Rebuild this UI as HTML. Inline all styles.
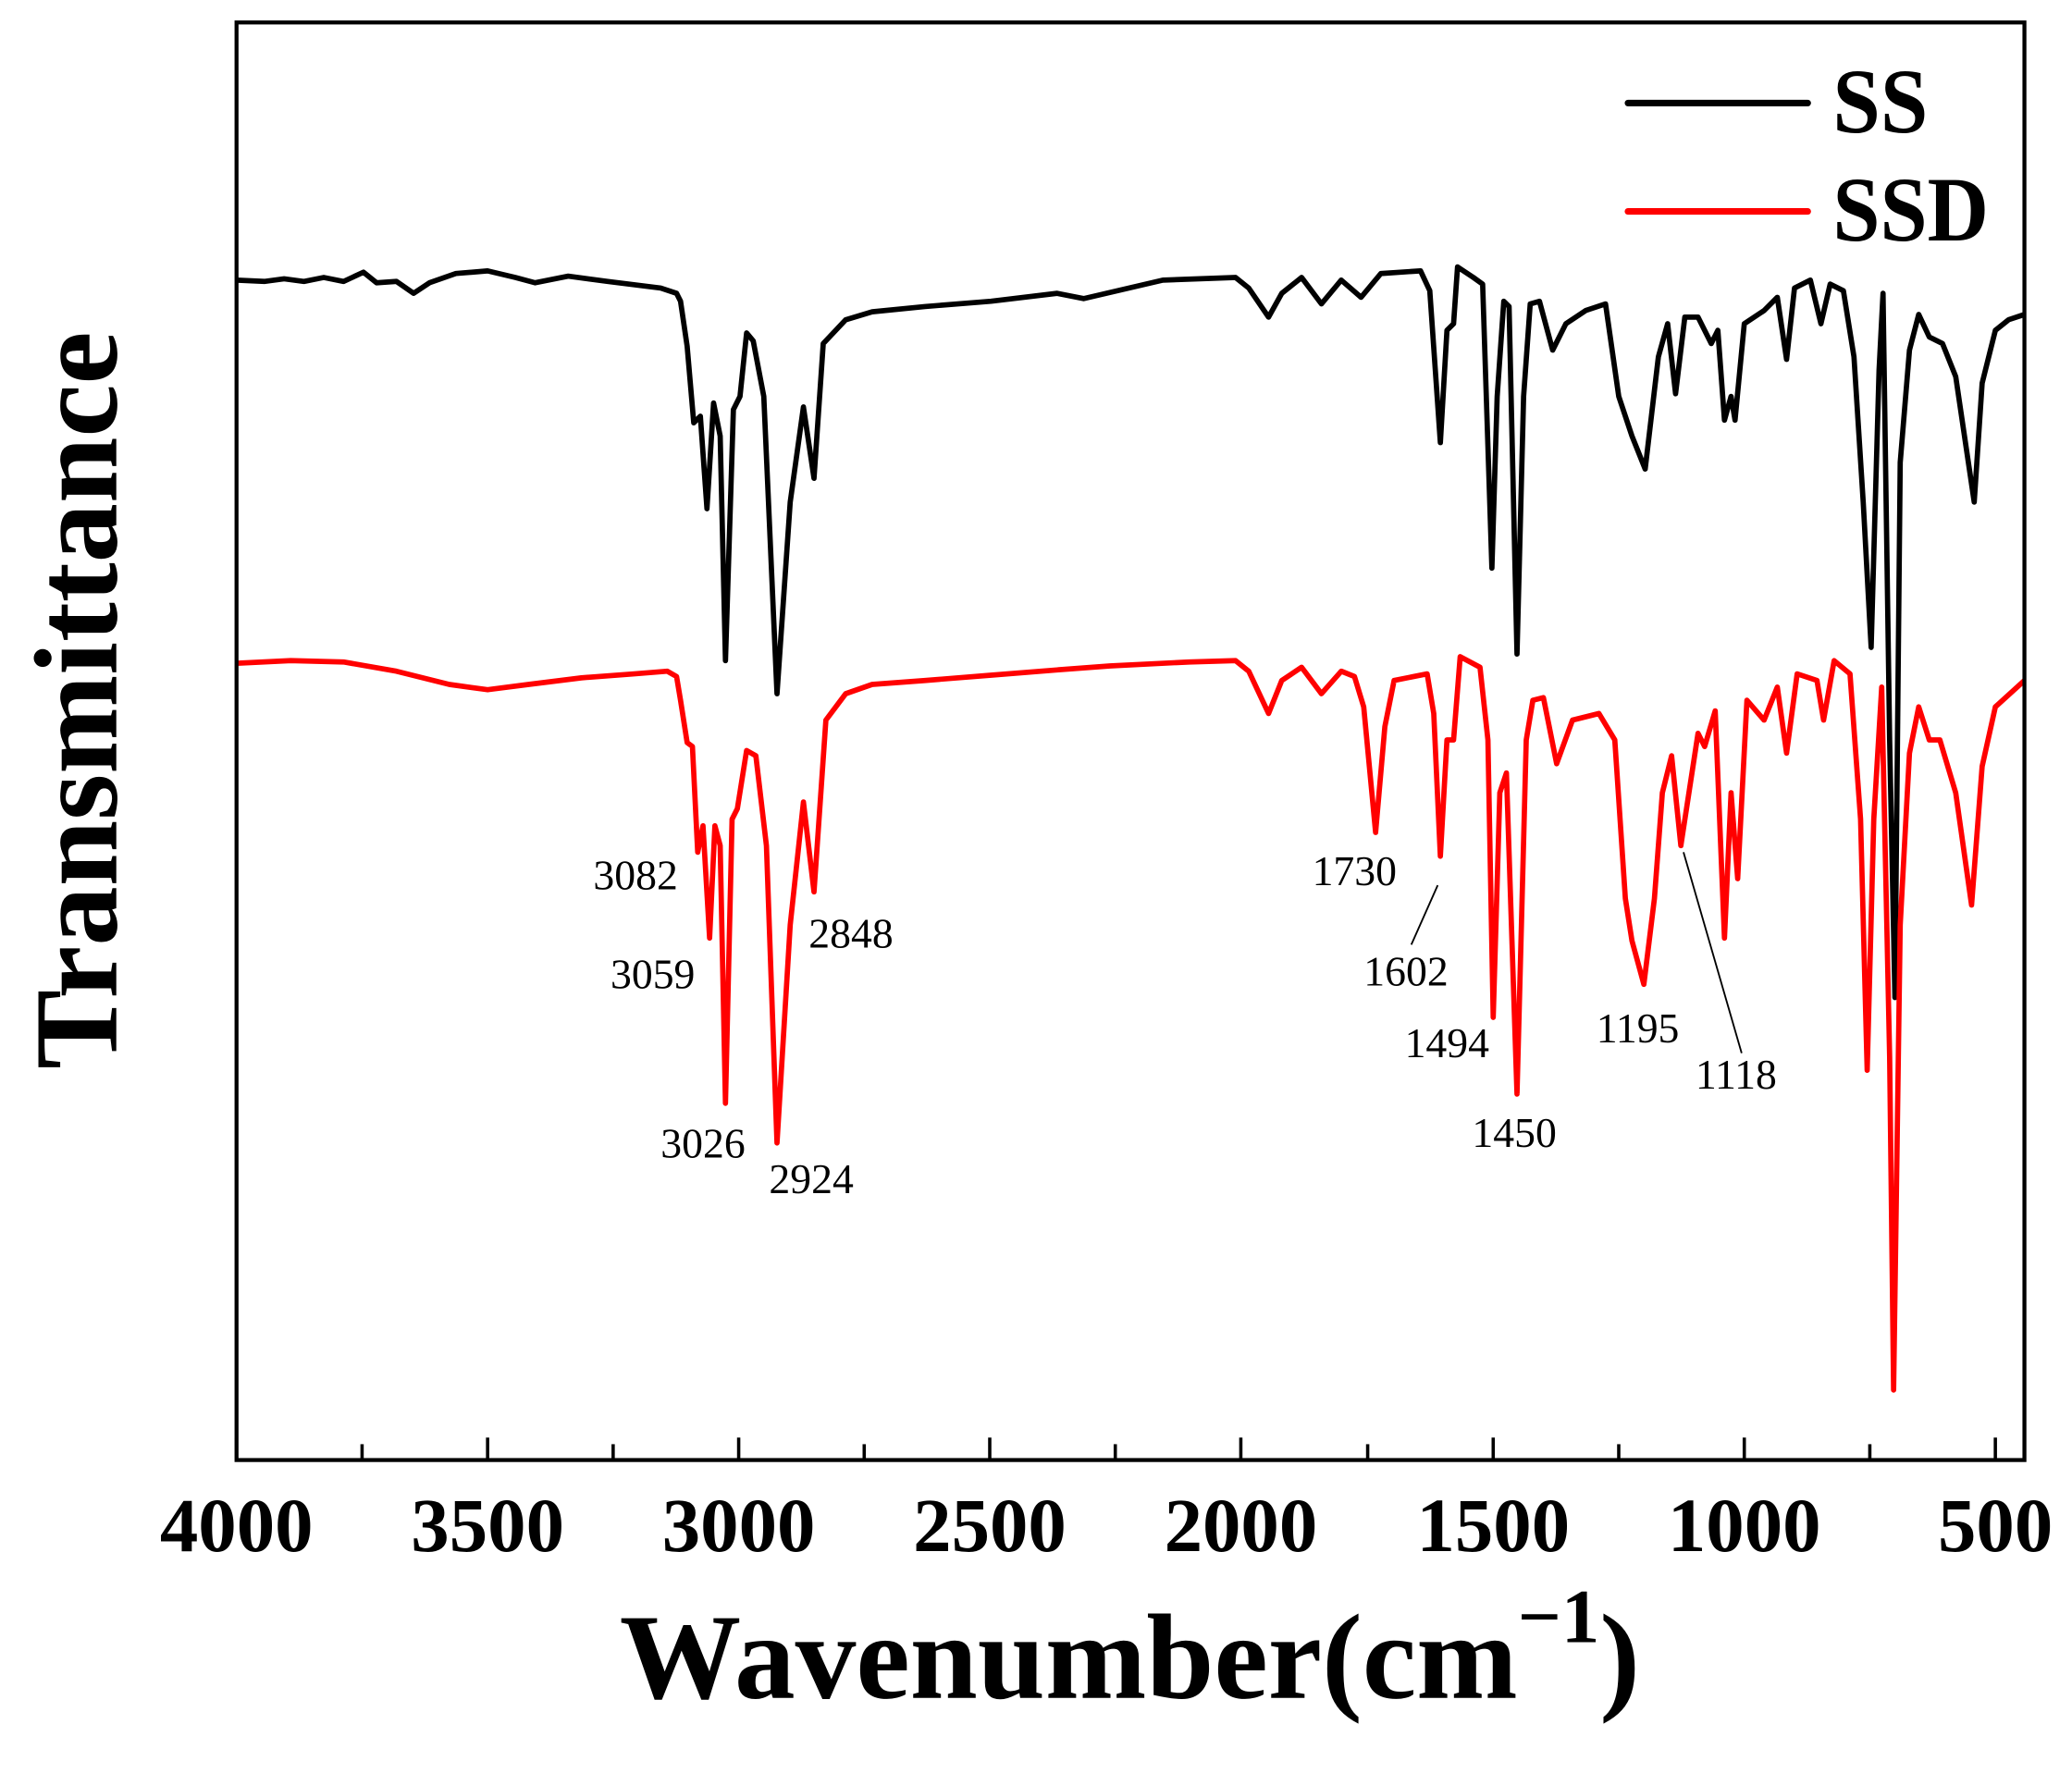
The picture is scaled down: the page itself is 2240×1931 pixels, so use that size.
<!DOCTYPE html>
<html><head><meta charset="utf-8"><style>html,body{margin:0;padding:0;background:#fff}svg{display:block}</style></head>
<body>
<svg width="2240" height="1931" viewBox="0 0 1568 1351.7" xmlns="http://www.w3.org/2000/svg" font-family="'Liberation Serif', serif">
<rect width="1568" height="1352" fill="#fff"/>
<g stroke="#000" stroke-width="2.5">
<line x1="179" y1="1105" x2="179" y2="1088"/><line x1="274" y1="1105" x2="274" y2="1093"/>
<line x1="369" y1="1105" x2="369" y2="1088"/><line x1="464" y1="1105" x2="464" y2="1093"/>
<line x1="559" y1="1105" x2="559" y2="1088"/><line x1="654" y1="1105" x2="654" y2="1093"/>
<line x1="749" y1="1105" x2="749" y2="1088"/><line x1="844" y1="1105" x2="844" y2="1093"/>
<line x1="939" y1="1105" x2="939" y2="1088"/><line x1="1035" y1="1105" x2="1035" y2="1093"/>
<line x1="1130" y1="1105" x2="1130" y2="1088"/><line x1="1225" y1="1105" x2="1225" y2="1093"/>
<line x1="1320" y1="1105" x2="1320" y2="1088"/><line x1="1415" y1="1105" x2="1415" y2="1093"/>
<line x1="1510" y1="1105" x2="1510" y2="1088"/>
</g>
<polyline fill="none" stroke="#000" stroke-width="4" stroke-linejoin="round" points="179,212 200,213 215,211 230,213 245,210 260,213 275,206 285,214 300,213 313,222 325,214 345,207 369,205 390,210 405,214 430,209 460,213 500,218 512,222 515,228 520,262 525,320 530,315 535,385 540,305 545,330 549,500 555,310 560,300 565,252 570,258 578,300 588,525 598,380 608,308 616,362 623,260 640,242 660,236 700,232 750,228 800,222 820,226 880,212 935,210 945,218 960,240 970,222 985,210 1000,230 1015,212 1030,225 1045,207 1075,205 1082,220 1090,335 1095,250 1100,245 1103,202 1115,210 1122,215 1129,430 1133,300 1138,228 1142,232 1148,495 1153,300 1158,230 1165,228 1175,265 1185,245 1200,235 1215,230 1225,300 1235,330 1245,355 1255,270 1262,245 1268,298 1275,240 1285,240 1295,260 1300,250 1305,318 1310,300 1313,318 1320,245 1335,235 1345,225 1352,272 1358,218 1370,212 1378,245 1385,215 1395,220 1403,270 1410,380 1416,490 1422,280 1425,222 1430,560 1434,755 1438,350 1445,265 1452,238 1460,255 1470,260 1480,285 1494,380 1500,290 1510,250 1520,242 1532,238"/>
<polyline fill="none" stroke="#ff0000" stroke-width="4" stroke-linejoin="round" points="179,502 220,500 260,501 300,508 340,518 369,522 400,518 440,513 480,510 505,508 512,512 515,530 520,562 524,565 528,645 532,625 537,710 541,625 545,640 549,835 554,620 558,612 565,568 572,572 580,640 588,865 598,700 608,607 616,675 625,545 640,525 660,518 700,515 750,511 800,507 840,504 900,501 935,500 945,508 960,540 970,515 985,505 1000,525 1015,508 1025,512 1032,535 1041,630 1048,550 1055,515 1080,510 1085,540 1090,648 1095,560 1100,560 1105,497 1120,505 1126,560 1130,770 1135,600 1140,585 1148,828 1155,560 1160,530 1168,528 1178,578 1190,545 1210,540 1222,560 1230,680 1235,712 1244,745 1252,680 1258,600 1265,572 1272,640 1285,555 1290,565 1298,538 1305,710 1310,600 1315,665 1322,530 1335,545 1345,520 1352,570 1360,510 1375,515 1380,545 1388,500 1400,510 1408,620 1413,810 1418,620 1424,520 1430,800 1433,1052 1438,700 1445,570 1452,535 1460,560 1468,560 1480,600 1492,685 1500,580 1510,535 1532,515"/>
<rect x="179" y="17" width="1353" height="1088" fill="none" stroke="#000" stroke-width="3"/>
<line x1="1232" y1="78" x2="1368" y2="78" stroke="#000" stroke-width="5" stroke-linecap="round"/>
<line x1="1232" y1="160" x2="1368" y2="160" stroke="#ff0000" stroke-width="5" stroke-linecap="round"/>
<g font-weight="bold" font-size="70">
<text x="1387" y="100" textLength="72" lengthAdjust="spacingAndGlyphs">SS</text><text x="1387" y="182" textLength="118" lengthAdjust="spacingAndGlyphs">SSD</text>
</g>
<g font-weight="bold" font-size="58" text-anchor="middle">
<text x="179" y="1174">4000</text><text x="369" y="1174">3500</text><text x="559" y="1174">3000</text>
<text x="749" y="1174">2500</text><text x="939" y="1174">2000</text><text x="1130" y="1174">1500</text>
<text x="1320" y="1174">1000</text><text x="1510" y="1174">500</text>
</g>
<g font-size="32">
<text x="449" y="673">3082</text><text x="462" y="748">3059</text><text x="500" y="876">3026</text>
<text x="582" y="903">2924</text><text x="612" y="717">2848</text><text x="993" y="670">1730</text>
<text x="1032" y="746">1602</text><text x="1063" y="800">1494</text><text x="1114" y="868">1450</text>
<text x="1208" y="789">1195</text><text x="1283" y="824">1118</text>
</g>
<g stroke="#000" stroke-width="1.3">
<line x1="1068" y1="715" x2="1088" y2="670"/>
<line x1="1318" y1="797" x2="1274" y2="645"/>
</g>
<text x="855" y="1285" text-anchor="middle" font-weight="bold" font-size="92">Wavenumber(cm<tspan font-size="58" dy="-42">−1</tspan><tspan dy="42">)</tspan></text>
<text transform="translate(88,530) rotate(-90)" text-anchor="middle" font-weight="bold" font-size="90">Transmittance</text>
</svg>
</body></html>
